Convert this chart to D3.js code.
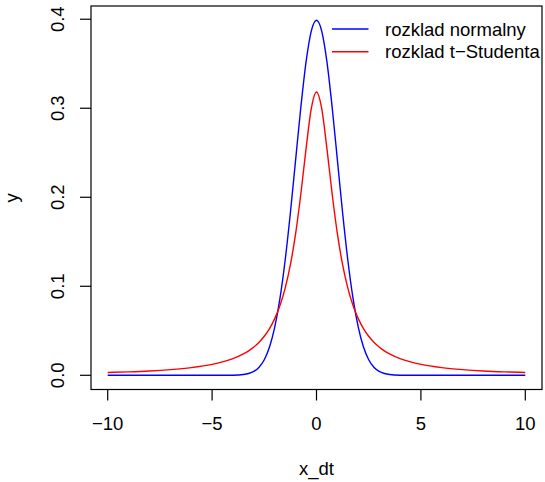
<!DOCTYPE html>
<html>
<head>
<meta charset="utf-8">
<script src="https://cdn.jsdelivr.net/npm/d3@7"></script>
<style>
  body { margin: 0; background: #fff; }
  svg text { font-family: "Liberation Sans", Arial, sans-serif; }
</style>
</head>
<body>
<div id="chart"></div>
<script>
// x positions of the sampled points
const x_dt = [-10, -9, -8, -7, -6, -5, -4.5, -4, -3.5, -3.25, -3, -2.75, -2.5, -2.25, -2, -1.75, -1.5, -1.25, -1, -0.75, -0.5, -0.25, 0,
	0.25, 0.5, 0.75, 1, 1.25, 1.5, 1.75, 2, 2.25, 2.5, 2.75, 3, 3.25, 3.5, 4, 4.5, 5, 6, 7, 8, 9, 10];

// rozklad normalny (blue)
const y_norm = [0, 0, 0, 0, 0, 0, 0.00002, 0.00013, 0.00087, 0.00203, 0.0044, 0.0091, 0.0175, 0.0317, 0.0540, 0.0863, 0.1295, 0.1826, 0.2420, 0.3011, 0.3521, 0.3867, 0.3989,
	0.3867, 0.3521, 0.3011, 0.2420, 0.1826, 0.1295, 0.0863, 0.0540, 0.0317, 0.0175, 0.0091, 0.0044, 0.00203, 0.00087, 0.00013, 0.00002, 0, 0, 0, 0, 0, 0];

// rozklad t-Studenta (red)
const y_t = [0.0032, 0.0039, 0.0049, 0.0064, 0.0086, 0.0122, 0.0150, 0.0187, 0.0240, 0.0275, 0.0318, 0.0372, 0.0439, 0.0525, 0.0637, 0.0784, 0.0979, 0.1242, 0.1592, 0.2037, 0.2546, 0.2996, 0.3183,
	0.2996, 0.2546, 0.2037, 0.1592, 0.1242, 0.0979, 0.0784, 0.0637, 0.0525, 0.0439, 0.0372, 0.0318, 0.0275, 0.0240, 0.0187, 0.0150, 0.0122, 0.0086, 0.0064, 0.0049, 0.0039, 0.0032];

const x_ticks = [-10, -5, 0, 5, 10];
const y_ticks = [0.0, 0.1, 0.2, 0.3, 0.4];
const legend_labels = ["rozklad normalny", "rozklad t\u2212Studenta"];
const legend_colors = ["#0000ff", "#ff0000"];

const width = 545, height = 482;
const plot_left = 91, plot_right = 542, plot_top = 6, plot_bottom = 389.5;
const font_size = 18.5;
const tick_len = 11;
const lwd = 1.4;

const svg = d3.select("#chart").append("svg")
	.attr("width", width)
	.attr("height", height);

// R style 4% range extension
const xScale = d3.scaleLinear().domain([-10.8, 10.8]).range([plot_left, plot_right]);
const yMax = 0.3989;
const yScale = d3.scaleLinear().domain([-0.04 * yMax, 1.04 * yMax]).range([plot_bottom, plot_top]);

const line = d3.line()
	.x((d, i) => xScale(x_dt[i]))
	.y(d => yScale(d))
	.curve(d3.curveMonotoneX);

svg.append("path")
	.attr("d", line(y_norm))
	.attr("fill", "none")
	.attr("stroke", legend_colors[0])
	.attr("stroke-width", lwd);

svg.append("path")
	.attr("d", line(y_t))
	.attr("fill", "none")
	.attr("stroke", legend_colors[1])
	.attr("stroke-width", lwd);

// box
svg.append("rect")
	.attr("x", plot_left)
	.attr("y", plot_top)
	.attr("width", plot_right - plot_left)
	.attr("height", plot_bottom - plot_top)
	.attr("fill", "none")
	.attr("stroke", "#000")
	.attr("stroke-width", 1.2);

// x axis ticks
const xAxis = svg.append("g");
xAxis.selectAll("line").data(x_ticks).join("line")
	.attr("x1", d => xScale(d)).attr("x2", d => xScale(d))
	.attr("y1", plot_bottom).attr("y2", plot_bottom + tick_len)
	.attr("stroke", "#000")
	.attr("stroke-width", 1.2);
xAxis.selectAll("text").data(x_ticks).join("text")
	.attr("x", d => xScale(d))
	.attr("y", 430)
	.attr("text-anchor", "middle")
	.attr("font-size", font_size)
	.text(d => d < 0 ? "\u2212" + Math.abs(d) : d);

// y axis ticks
const yAxis = svg.append("g");
yAxis.selectAll("line").data(y_ticks).join("line")
	.attr("x1", plot_left - tick_len).attr("x2", plot_left)
	.attr("y1", d => yScale(d)).attr("y2", d => yScale(d))
	.attr("stroke", "#000")
	.attr("stroke-width", 1.2);
yAxis.selectAll("text").data(y_ticks).join("text")
	.attr("transform", d => `translate(64,${yScale(d)}) rotate(-90)`)
	.attr("text-anchor", "middle")
	.attr("font-size", font_size)
	.text(d => d.toFixed(1));

// axis titles
svg.append("text")
	.attr("x", (plot_left + plot_right) / 2)
	.attr("y", 475)
	.attr("text-anchor", "middle")
	.attr("font-size", font_size)
	.text("x_dt");

svg.append("text")
	.attr("transform", `translate(18,${(plot_top + plot_bottom) / 2}) rotate(-90)`)
	.attr("text-anchor", "middle")
	.attr("font-size", font_size)
	.text("y");

// legend, no border
const legend = svg.append("g");
legend_labels.forEach((lab, i) => {
	const ly = 29 + i * 22.7;
	legend.append("line")
		.attr("x1", 332).attr("x2", 368.5)
		.attr("y1", ly).attr("y2", ly)
		.attr("stroke", legend_colors[i])
		.attr("stroke-width", lwd);
	legend.append("text")
		.attr("x", 385)
		.attr("y", ly + 6.5)
		.attr("font-size", font_size)
		.text(lab);
});
</script>
</body>
</html>
